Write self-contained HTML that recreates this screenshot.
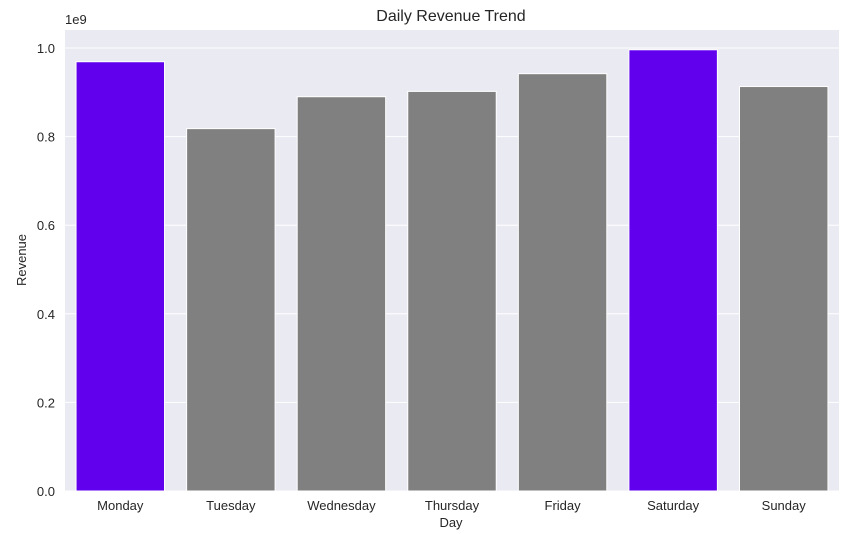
<!DOCTYPE html>
<html><head><meta charset="utf-8"><style>
body{margin:0;background:#fff;}
svg{display:block;font-family:"Liberation Sans",sans-serif;}
</style></head><body>
<svg id="chart" width="845" height="534">
<rect x="65" y="30" width="774" height="461" fill="#eaeaf2"/>
<g id="grid"></g><g id="bars"></g><g id="yticks"></g><g id="xticks"></g>
<text x="451" y="21" text-anchor="middle" font-size="16" fill="#262626">Daily Revenue Trend</text>
<text x="451" y="527" text-anchor="middle" font-size="13" fill="#262626">Day</text>
<text transform="translate(26,260) rotate(-90)" text-anchor="middle" font-size="13" fill="#262626">Revenue</text>
<text x="65" y="24" font-size="13" fill="#262626">1e9</text>
</svg>
<script>
const days=["Monday","Tuesday","Wednesday","Thursday","Friday","Saturday","Sunday"];
const revenue=[0.969,0.818,0.890,0.902,0.942,0.996,0.913];
const highlight=[true,false,false,false,false,true,false];
const yTicks=[0,0.2,0.4,0.6,0.8,1.0];
const yTickLabels=["0.0","0.2","0.4","0.6","0.8","1.0"];
const NS="http://www.w3.org/2000/svg";
const L=65,R=839,B=491,T=30;
const y=v=>B-v*443;
const step=(R-L)/days.length;
const x=i=>L+step*i;
function mk(t,a,p){const e=document.createElementNS(NS,t);for(const k in a)e.setAttribute(k,a[k]);p.appendChild(e);return e;}
const g=document.getElementById('grid'),b=document.getElementById('bars'),yt=document.getElementById('yticks'),xt=document.getElementById('xticks');
yTicks.forEach((v,i)=>{
 const l=mk('line',{x1:L,x2:R,y1:y(v),y2:y(v),stroke:'#fff','stroke-width':1},g);
 
 
 const t=mk('text',{x:55,y:y(v)+5,'text-anchor':'end','font-size':13,fill:'#262626'},yt);
 t.textContent=yTickLabels[i];
 
 
});
days.forEach((d,i)=>{
 const w=step*0.8;
 const r=mk('rect',{x:x(i)+step*0.1,y:y(revenue[i]),width:w,height:B-y(revenue[i]),fill:highlight[i]?'#6100ed':'#808080',stroke:'#fff','stroke-width':1},b);
 
 
 const t=mk('text',{x:x(i)+step/2,y:510,'text-anchor':'middle','font-size':13,fill:'#262626'},xt);
 t.textContent=d;
 
 
});
</script>
</body></html>
